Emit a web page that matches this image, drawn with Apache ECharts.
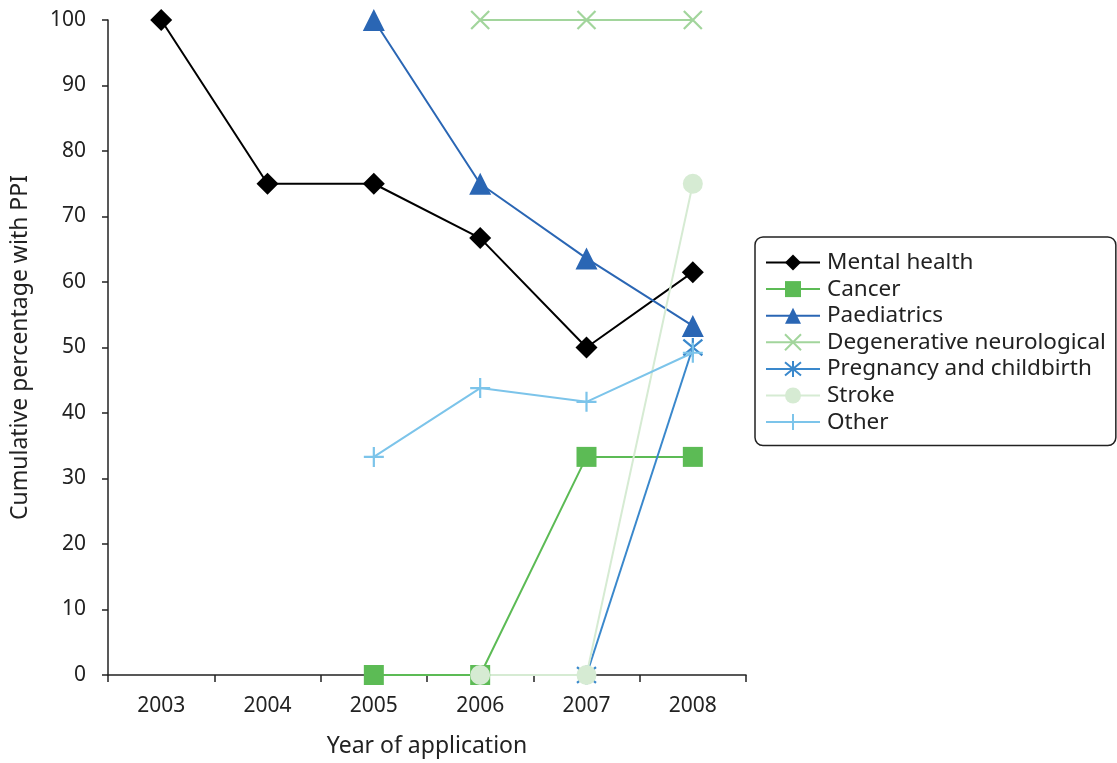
<!DOCTYPE html>
<html>
<head>
<meta charset="utf-8">
<script src="https://cdn.jsdelivr.net/npm/echarts@6/dist/echarts.min.js"></script>
<style>html,body{margin:0;padding:0;background:#fff;}#c{width:1117px;height:763px;}</style>
</head>
<body>
<div id="c"></div>
<script>
const years = ['2003','2004','2005','2006','2007','2008'];
const mentalHealth = [100, 75, 75, 66.7, 50, 61.5];
const cancer = [null, null, 0, 0, 33.3, 33.3];
const paediatrics = [null, null, 100, 75, 63.6, 53.3];
const degenerative = [null, null, null, 100, 100, 100];
const pregnancy = [null, null, null, null, 0, 50];
const stroke = [null, null, null, 0, 0, 75];
const other = [null, null, 33.3, 43.8, 41.7, 49.2];
const yTicks = [0,10,20,30,40,50,60,70,80,90,100];

const FONT = 'Noto Sans';
function S(name, data, color, symbol, size, stroke) {
  return {
    name, type: 'line', data, symbol, symbolSize: size,
    lineStyle: { color, width: 2 },
    itemStyle: stroke ? { color, borderColor: color, borderWidth: 2.2 } : { color },
    emphasis: { disabled: true },
    animation: false
  };
}
const chart = echarts.init(document.getElementById('c'));
chart.setOption({
  backgroundColor: '#fff',
  textStyle: { fontFamily: FONT },
  grid: { left: 108, right: 371, top: 20, bottom: 88, containLabel: false },
  xAxis: {
    type: 'category', data: years, boundaryGap: true,
    name: 'Year of application', nameLocation: 'middle', nameGap: 60,
    nameTextStyle: { fontSize: 23, color: '#222', fontFamily: FONT },
    axisLine: { lineStyle: { color: '#222', width: 1.5 } },
    axisTick: { show: true, length: 7, lineStyle: { color: '#222', width: 1.5 } },
    axisLabel: { fontSize: 21, color: '#222', margin: 21, fontFamily: FONT }
  },
  yAxis: {
    type: 'value', min: 0, max: 100, interval: 10,
    name: 'Cumulative percentage with PPI', nameLocation: 'middle', nameGap: 76, nameRotate: 90,
    nameTextStyle: { fontSize: 23, color: '#222', fontFamily: FONT },
    axisLine: { show: true, lineStyle: { color: '#222', width: 1.5 } },
    axisTick: { show: true, length: 6, lineStyle: { color: '#222', width: 1.5 } },
    axisLabel: { fontSize: 21, color: '#222', margin: 22, fontFamily: FONT,
      formatter: v => yTicks.includes(v) ? String(v) : '' },
    splitLine: { show: false }
  },
  legend: {
    orient: 'vertical', left: 755, top: 237,
    padding: [14, 10, 12, 10],
    itemWidth: 54, itemHeight: 20, itemGap: 3.6,
    borderColor: '#222', borderWidth: 1.5, borderRadius: 8,
    textStyle: { fontSize: 22.5, color: '#222', fontFamily: FONT, padding: [0,0,0,2] },
    data: ['Mental health','Cancer','Paediatrics','Degenerative neurological','Pregnancy and childbirth','Stroke','Other']
  },
  series: [
    S('Mental health', mentalHealth, '#000000', 'diamond', 22),
    S('Cancer', cancer, '#5cbb55', 'rect', 20),
    S('Paediatrics', paediatrics, '#2a66b4', 'triangle', 22),
    S('Degenerative neurological', degenerative, '#a2d59c', 'path://M0,0L10,10M10,0L0,10', 18, true),
    S('Pregnancy and childbirth', pregnancy, '#3a88cc', 'path://M0,0L10,10M10,0L0,10M5,-1L5,11', 19, true),
    S('Stroke', stroke, '#d6ebd3', 'circle', 20),
    S('Other', other, '#7cc4ea', 'path://M5,0L5,10M0,5L10,5', 20, true)
  ]
});
</script>
</body>
</html>
